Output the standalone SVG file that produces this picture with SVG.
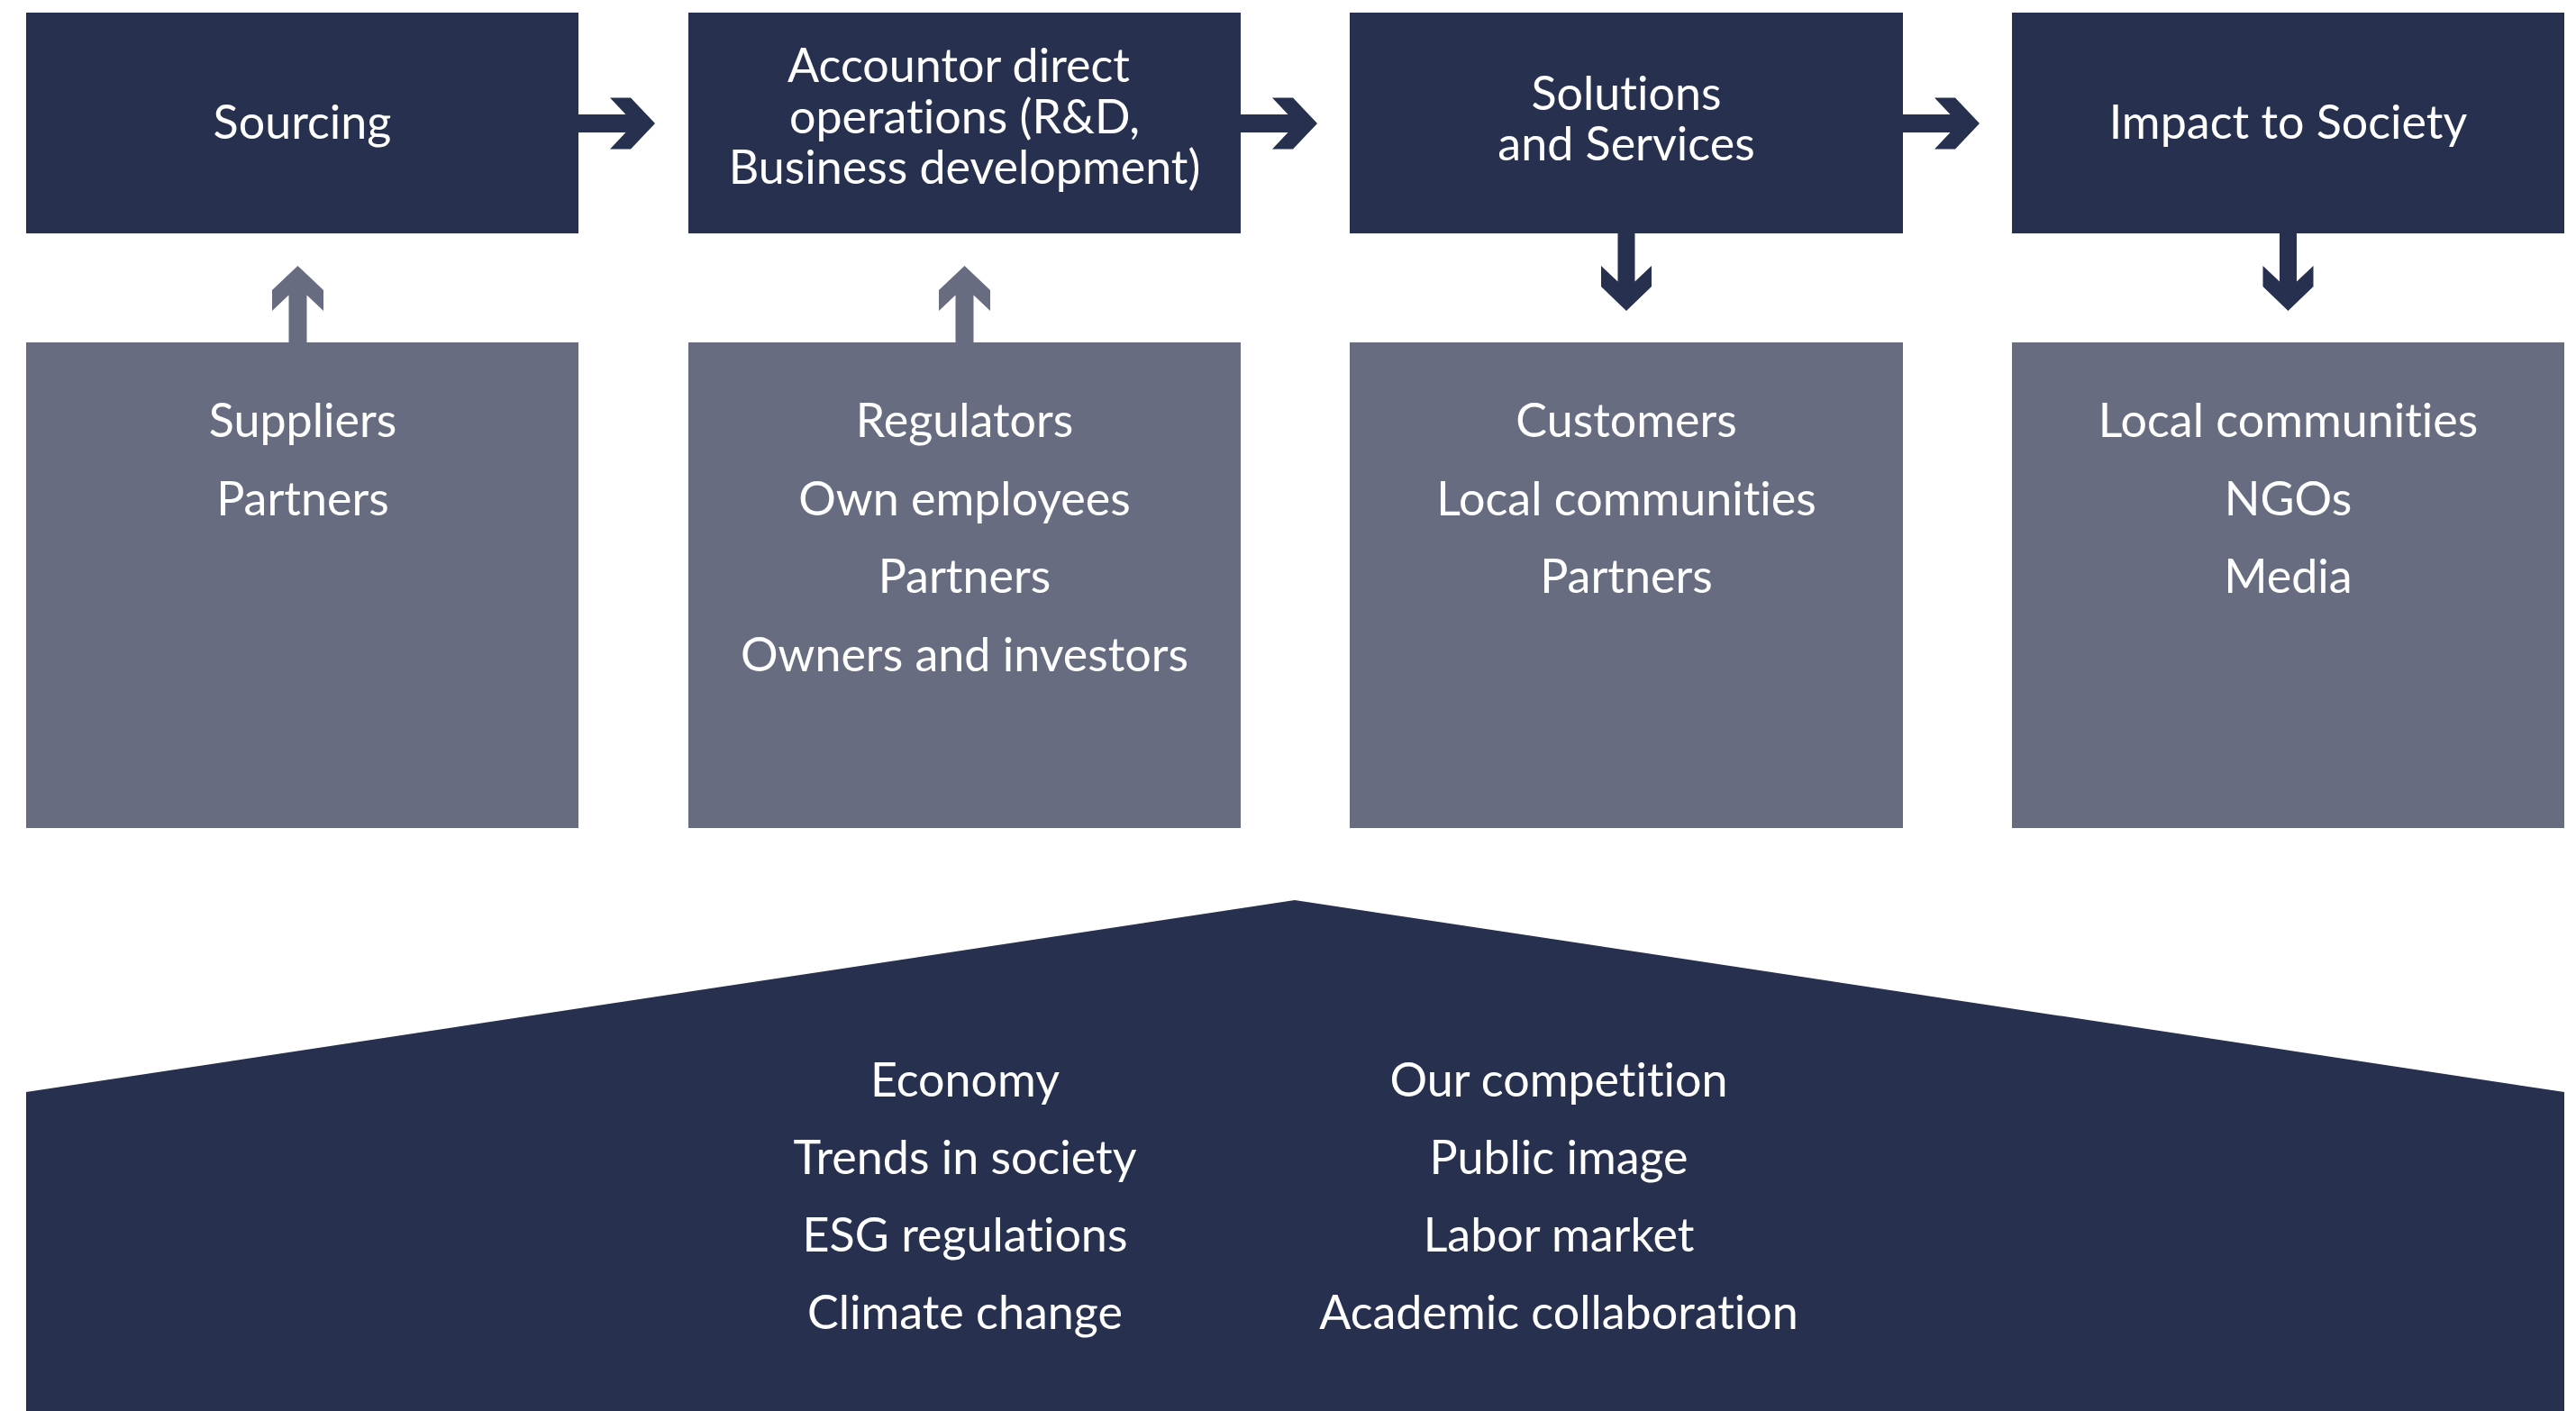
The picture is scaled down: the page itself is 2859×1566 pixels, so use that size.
<svg xmlns="http://www.w3.org/2000/svg" width="2859" height="1566" viewBox="0 0 2859 1566">
<style>
.dark{fill:#27304e}
.grey{fill:#676c80}
text{font-family:Lato,"Open Sans","Liberation Sans",sans-serif;font-size:52px;fill:#ffffff;text-anchor:middle;font-variant-ligatures:none}
</style>
<rect width="2859" height="1566" fill="#ffffff"/>
<g id="node-sourcing"><rect class="dark" x="29" y="14" width="613" height="245"/><text x="335.5" y="154">Sourcing</text></g>
<g id="node-operations"><rect class="dark" x="764" y="14" width="613" height="245"/><text x="1064" y="91">Accountor direct</text><text x="1070.5" y="148">operations (R&amp;D,</text><text x="1070.5" y="204">Business development)</text></g>
<g id="node-solutions"><rect class="dark" x="1498" y="14" width="614" height="245"/><text x="1805" y="122">Solutions</text><text x="1805" y="178">and Services</text></g>
<g id="node-impact"><rect class="dark" x="2233" y="14" width="613" height="245"/><text x="2539.5" y="154">Impact to Society</text></g>
<g id="node-suppliers"><rect class="grey" x="29" y="380" width="613" height="539"/><text x="336" y="485">Suppliers</text><text x="336" y="572">Partners</text></g>
<g id="node-regulators"><rect class="grey" x="764" y="380" width="613" height="539"/><text x="1070.5" y="485">Regulators</text><text x="1070.5" y="572">Own employees</text><text x="1070.5" y="658">Partners</text><text x="1070.5" y="745">Owners and investors</text></g>
<g id="node-customers"><rect class="grey" x="1498" y="380" width="614" height="539"/><text x="1805" y="485">Customers</text><text x="1805" y="572">Local communities</text><text x="1805" y="658">Partners</text></g>
<g id="node-communities"><rect class="grey" x="2233" y="380" width="613" height="539"/><text x="2539.5" y="485">Local communities</text><text x="2539.5" y="572">NGOs</text><text x="2539.5" y="658">Media</text></g>
<g id="node-environment"><polygon class="dark" points="29,1566 29,1212 1437,999 2846,1212 2846,1566"/>
<text x="1071" y="1217">Economy</text><text x="1071" y="1303">Trends in society</text><text x="1071" y="1389">ESG regulations</text><text x="1071" y="1475">Climate change</text>
<text x="1730" y="1217">Our competition</text><text x="1730" y="1303">Public image</text><text x="1730" y="1389">Labor market</text><text x="1730" y="1475">Academic collaboration</text></g>
<g id="connectors">
<path class="dark" d="M642,127 L694.5,127 L677,108.5 L700,108.5 L727,137 L700,165.5 L677,165.5 L694.5,147 L642,147 Z"/>
<path class="dark" d="M1377,127 L1429.5,127 L1412,108.5 L1435,108.5 L1462,137 L1435,165.5 L1412,165.5 L1429.5,147 L1377,147 Z"/>
<path class="dark" d="M2112,127 L2164.5,127 L2147,108.5 L2170,108.5 L2197,137 L2170,165.5 L2147,165.5 L2164.5,147 L2112,147 Z"/>
<path class="grey" d="M320.5,380 L320.5,327.5 L302,345 L302,322 L330.5,295 L359,322 L359,345 L340.5,327.5 L340.5,380 Z"/>
<path class="grey" d="M1060.5,380 L1060.5,327.5 L1042,345 L1042,322 L1070.5,295 L1099,322 L1099,345 L1080.5,327.5 L1080.5,380 Z"/>
<path class="dark" d="M1795.5,259 L1795.5,312.5 L1777,295 L1777,318 L1805,345 L1833,318 L1833,295 L1814.5,312.5 L1814.5,259 Z"/>
<path class="dark" d="M2530,259 L2530,312.5 L2511.5,295 L2511.5,318 L2539.5,345 L2567.5,318 L2567.5,295 L2549,312.5 L2549,259 Z"/>
</g>
</svg>
